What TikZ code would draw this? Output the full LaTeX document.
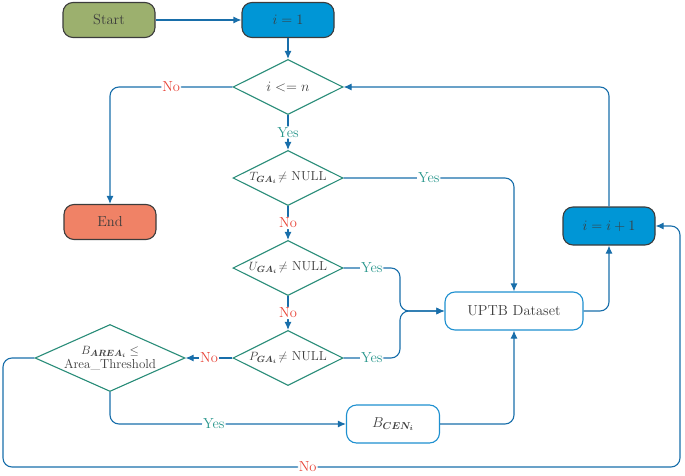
\documentclass[tikz,border=0pt]{standalone}
\usepackage{amsmath,amssymb}
\usetikzlibrary{arrows.meta,shapes.geometric,positioning}
\definecolor{startgreen}{RGB}{156,176,110}
\definecolor{endred}{RGB}{240,130,102}
\definecolor{stepblue}{RGB}{0,150,214}
\definecolor{boxgray}{RGB}{60,60,60}
\definecolor{lineblue}{RGB}{24,110,170}
\definecolor{edgeblue}{RGB}{30,144,208}
\definecolor{condteal}{RGB}{40,140,120}
\definecolor{yesteal}{RGB}{40,150,140}
\definecolor{nored}{RGB}{232,64,52}

\begin{document}
\begin{tikzpicture}[x=1pt,y=-1pt,>={Latex[length=8pt,width=7pt]}, semithick,
        chart/.style={font=\fontsize{14.5}{17}\selectfont,text=boxgray},
        term/.style={chart,rectangle,rounded corners=10pt,draw=boxgray,line width=1.1pt,
                     minimum width=92pt,minimum height=35pt},
        store/.style={chart,rectangle,rounded corners=10pt,draw=edgeblue,line width=1.1pt,
                      fill=white,minimum height=38pt},
        cond/.style={chart,font=\fontsize{13}{15}\selectfont,diamond,aspect=2,draw=condteal,
                     line width=1.1pt,fill=white,inner sep=-2pt,minimum width=110pt,minimum height=55pt},
        link/.style={draw=lineblue,line width=1.1pt,rounded corners=9pt},
        flow/.style={link,->},
        yes/.style={chart,fill=white,text=yesteal,inner sep=1pt},
        no/.style={chart,fill=white,text=nored,inner sep=1pt}]
        \useasboundingbox (0,0) rectangle (685,476);
        % boxes
        \node[term,fill=startgreen] at (109,20)  (start) {Start};
        \node[term,fill=stepblue]   at (288,20)  (init) {$i=1$};
        \node[cond,font=\fontsize{14.5}{17}\selectfont] at (288,87)  (loop) {$i<=n$};
        \node[term,fill=endred]     at (110,222) (end) {End};
        \node[cond] at (288,178) (tga) {$T_{\boldsymbol{GA_i}}\!\neq$ NULL};
        \node[cond] at (288,268) (uga) {$U_{\boldsymbol{GA_i}}\!\neq$ NULL};
        \node[cond] at (288,358) (pga) {$P_{\boldsymbol{GA_i}}\!\neq$ NULL};
        \node[cond,minimum width=150pt,minimum height=67pt,inner sep=-8pt,align=center]
              at (110,358) (area) {$B_{\boldsymbol{AREA_i}}\leq$\\[-1pt]Area\_Threshold};
        \node[store,minimum width=93pt]  at (393,424) (cen) {$B_{\boldsymbol{CEN_i}}$};
        \node[store,minimum width=138pt] at (514,311) (uptb) {UPTB Dataset};
        \node[term,fill=stepblue,minimum height=38pt] at (609,226) (inc) {$i=i+1$};
        \coordinate (join) at (400,311);
        \coordinate (lowl) at (3,467);
        \coordinate (lowr) at (680,467);
        % connectors
        \draw[flow] (start) -- (init);
        \draw[flow] (init) -- (loop);
        \draw[flow] (loop.west) -| node[no,pos=0.25] {No} (end);
        \draw[flow] (loop) -- node[yes] {Yes} (tga);
        \draw[flow] (tga.east) -| node[yes,pos=0.25] {Yes} (uptb);
        \draw[flow] (tga) -- node[no] {No} (uga);
        \draw[flow] (uga.east) -| node[yes,pos=0.25] {Yes} (join) -- (uptb.west);
        \draw[flow] (uga) -- node[no] {No} (pga);
        \draw[flow] (pga.east) -| node[yes,pos=0.25] {Yes} (join) -- (uptb.west);
        \draw[flow] (pga) -- node[no] {No} (area);
        \draw[flow] (area.south) |- node[yes,pos=0.72] {Yes} (cen);
        \draw[flow] (cen) -| (uptb);
        \draw[flow] (uptb) -| (inc);
        \draw[flow] (inc) |- (loop);
        \draw[flow] (area.west) -| (lowl) -- node[no,pos=0.45] {No} (lowr) |- (inc.east);
\end{tikzpicture}
\end{document}
